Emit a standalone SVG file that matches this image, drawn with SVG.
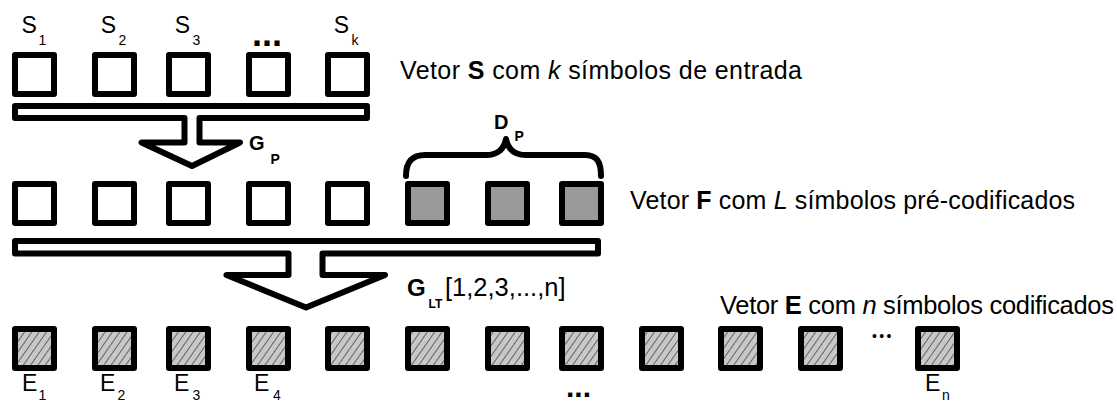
<svg xmlns="http://www.w3.org/2000/svg" width="1117" height="401" viewBox="0 0 1117 401">
<style>
.box{fill:#fff;stroke:#000;stroke-width:6;stroke-linejoin:round}
.pre{fill:#999;stroke:#000;stroke-width:6;stroke-linejoin:round}
.enc{fill:url(#hatch);stroke:#000;stroke-width:6;stroke-linejoin:round}
.conn{fill:none;stroke:#000;stroke-width:6;stroke-linejoin:round;stroke-linecap:round}
text{font-family:"Liberation Sans",Arial,sans-serif;fill:#000}
.lbl{font-size:23px}
.elbl{font-size:23px}
.sub{font-size:14px}
.big{font-size:25px}
.b{font-weight:bold}
.i{font-style:italic}
</style>
<defs>
<pattern id="hatch" patternUnits="userSpaceOnUse" width="6" height="6" patternTransform="rotate(35)">
<rect width="6" height="6" fill="#c8c8c8"/>
<line x1="0" y1="0" x2="0" y2="6" stroke="#000" stroke-width="1"/>
</pattern>
</defs>

<g id="connectors">
<path class="conn" d="M15,106 L367,106 L367,118 L199.5,118 L199.5,142.5 L240,142.5 L192,166 L141.5,142.5 L184.5,142.5 L184.5,118 L15,118 Z"/>
<path class="conn" d="M15,241 L598,241 L598,253.5 L322.5,253.5 L322.5,275 L385,275 L306,307.5 L226.5,275 L288.5,275 L288.5,253.5 L15,253.5 Z"/>
<path class="conn" d="M406,176 C406,162 412,155 425,155 L486,155 C498,155 504,149 506,139 C508,149 514,155 526,155 L585,155 C597,155 601,162 601,176"/>
</g>

<g id="vectorS">
<g id="s1"><rect class="box" x="15" y="55" width="39" height="39"/><text class="lbl" x="21.5" y="33">S</text><text class="sub" x="38.5" y="45">1</text></g>
<g id="s2"><rect class="box" x="95" y="55" width="39" height="39"/><text class="lbl" x="100.8" y="33">S</text><text class="sub" x="118.5" y="45">2</text></g>
<g id="s3"><rect class="box" x="169" y="55" width="39" height="39"/><text class="lbl" x="174.8" y="33">S</text><text class="sub" x="192.5" y="45">3</text></g>
<g id="s4"><rect class="box" x="249" y="55" width="39" height="39"/><text class="b" font-size="36" x="252" y="46">...</text></g>
<g id="sk"><rect class="box" x="328" y="55" width="39" height="39"/><text class="lbl" x="333.8" y="33">S</text><text class="sub" x="351.5" y="45">k</text></g>
<text id="labelS" class="big" x="400" y="79" textLength="402">Vetor <tspan class="b">S</tspan> com <tspan class="i">k</tspan> símbolos de entrada</text>
</g>

<g id="gp"><text class="b" font-size="20" x="249" y="150">G</text><text class="b" font-size="14" x="270.5" y="164">P</text></g>

<g id="vectorF">
<g id="f1"><rect class="box" x="15" y="184" width="39" height="39"/></g>
<g id="f2"><rect class="box" x="95" y="184" width="39" height="39"/></g>
<g id="f3"><rect class="box" x="169" y="184" width="39" height="39"/></g>
<g id="f4"><rect class="box" x="249" y="184" width="39" height="39"/></g>
<g id="f5"><rect class="box" x="328" y="184" width="39" height="39"/></g>
<g id="d1"><rect class="pre" x="408" y="184" width="39" height="39"/></g>
<g id="d2"><rect class="pre" x="488" y="184" width="39" height="39"/></g>
<g id="d3"><rect class="pre" x="562" y="184" width="39" height="39"/></g>
<text id="labelF" class="big" x="630" y="209" textLength="445">Vetor <tspan class="b">F</tspan> com <tspan class="i">L</tspan> símbolos pré-codificados</text>
</g>

<g id="dp"><text class="b" font-size="20" x="494" y="129">D</text><text class="b" font-size="14" x="514.5" y="141">P</text></g>

<g id="glt"><text class="b" font-size="24" x="407" y="296">G</text><text class="b" font-size="12" x="428.5" y="308">LT</text><text font-size="25.5" x="445" y="296">[1,2,3,...,n]</text></g>

<g id="vectorE">
<g id="e1"><rect class="enc" x="15" y="329" width="39" height="39"/><text class="elbl" x="22" y="391">E</text><text class="sub" x="38.5" y="400">1</text></g>
<g id="e2"><rect class="enc" x="95" y="329" width="39" height="39"/><text class="elbl" x="100" y="391">E</text><text class="sub" x="117.5" y="400">2</text></g>
<g id="e3"><rect class="enc" x="169" y="329" width="39" height="39"/><text class="elbl" x="174" y="391">E</text><text class="sub" x="192.5" y="400">3</text></g>
<g id="e4"><rect class="enc" x="249" y="329" width="39" height="39"/><text class="elbl" x="254" y="391">E</text><text class="sub" x="273" y="400">4</text></g>
<g id="e5"><rect class="enc" x="328" y="329" width="39" height="39"/></g>
<g id="e6"><rect class="enc" x="408" y="329" width="39" height="39"/></g>
<g id="e7"><rect class="enc" x="488" y="329" width="39" height="39"/></g>
<g id="e8"><rect class="enc" x="562" y="329" width="39" height="39"/></g>
<g id="e9"><rect class="enc" x="642" y="329" width="39" height="39"/></g>
<g id="e10"><rect class="enc" x="721" y="329" width="39" height="39"/></g>
<g id="e11"><rect class="enc" x="801" y="329" width="39" height="39"/></g>
<g id="en"><rect class="enc" x="918" y="329" width="39" height="39"/><text class="elbl" x="925" y="391">E</text><text class="sub" x="942" y="400">n</text></g>
<text class="b" font-size="30" x="566" y="397">...</text>
<text font-size="14" x="872" y="341" letter-spacing="2.3">•••</text>
<text id="labelE" font-size="25.5" x="720" y="314" textLength="394">Vetor <tspan class="b">E</tspan> com <tspan class="i">n</tspan> símbolos codificados</text>
</g>
</svg>
